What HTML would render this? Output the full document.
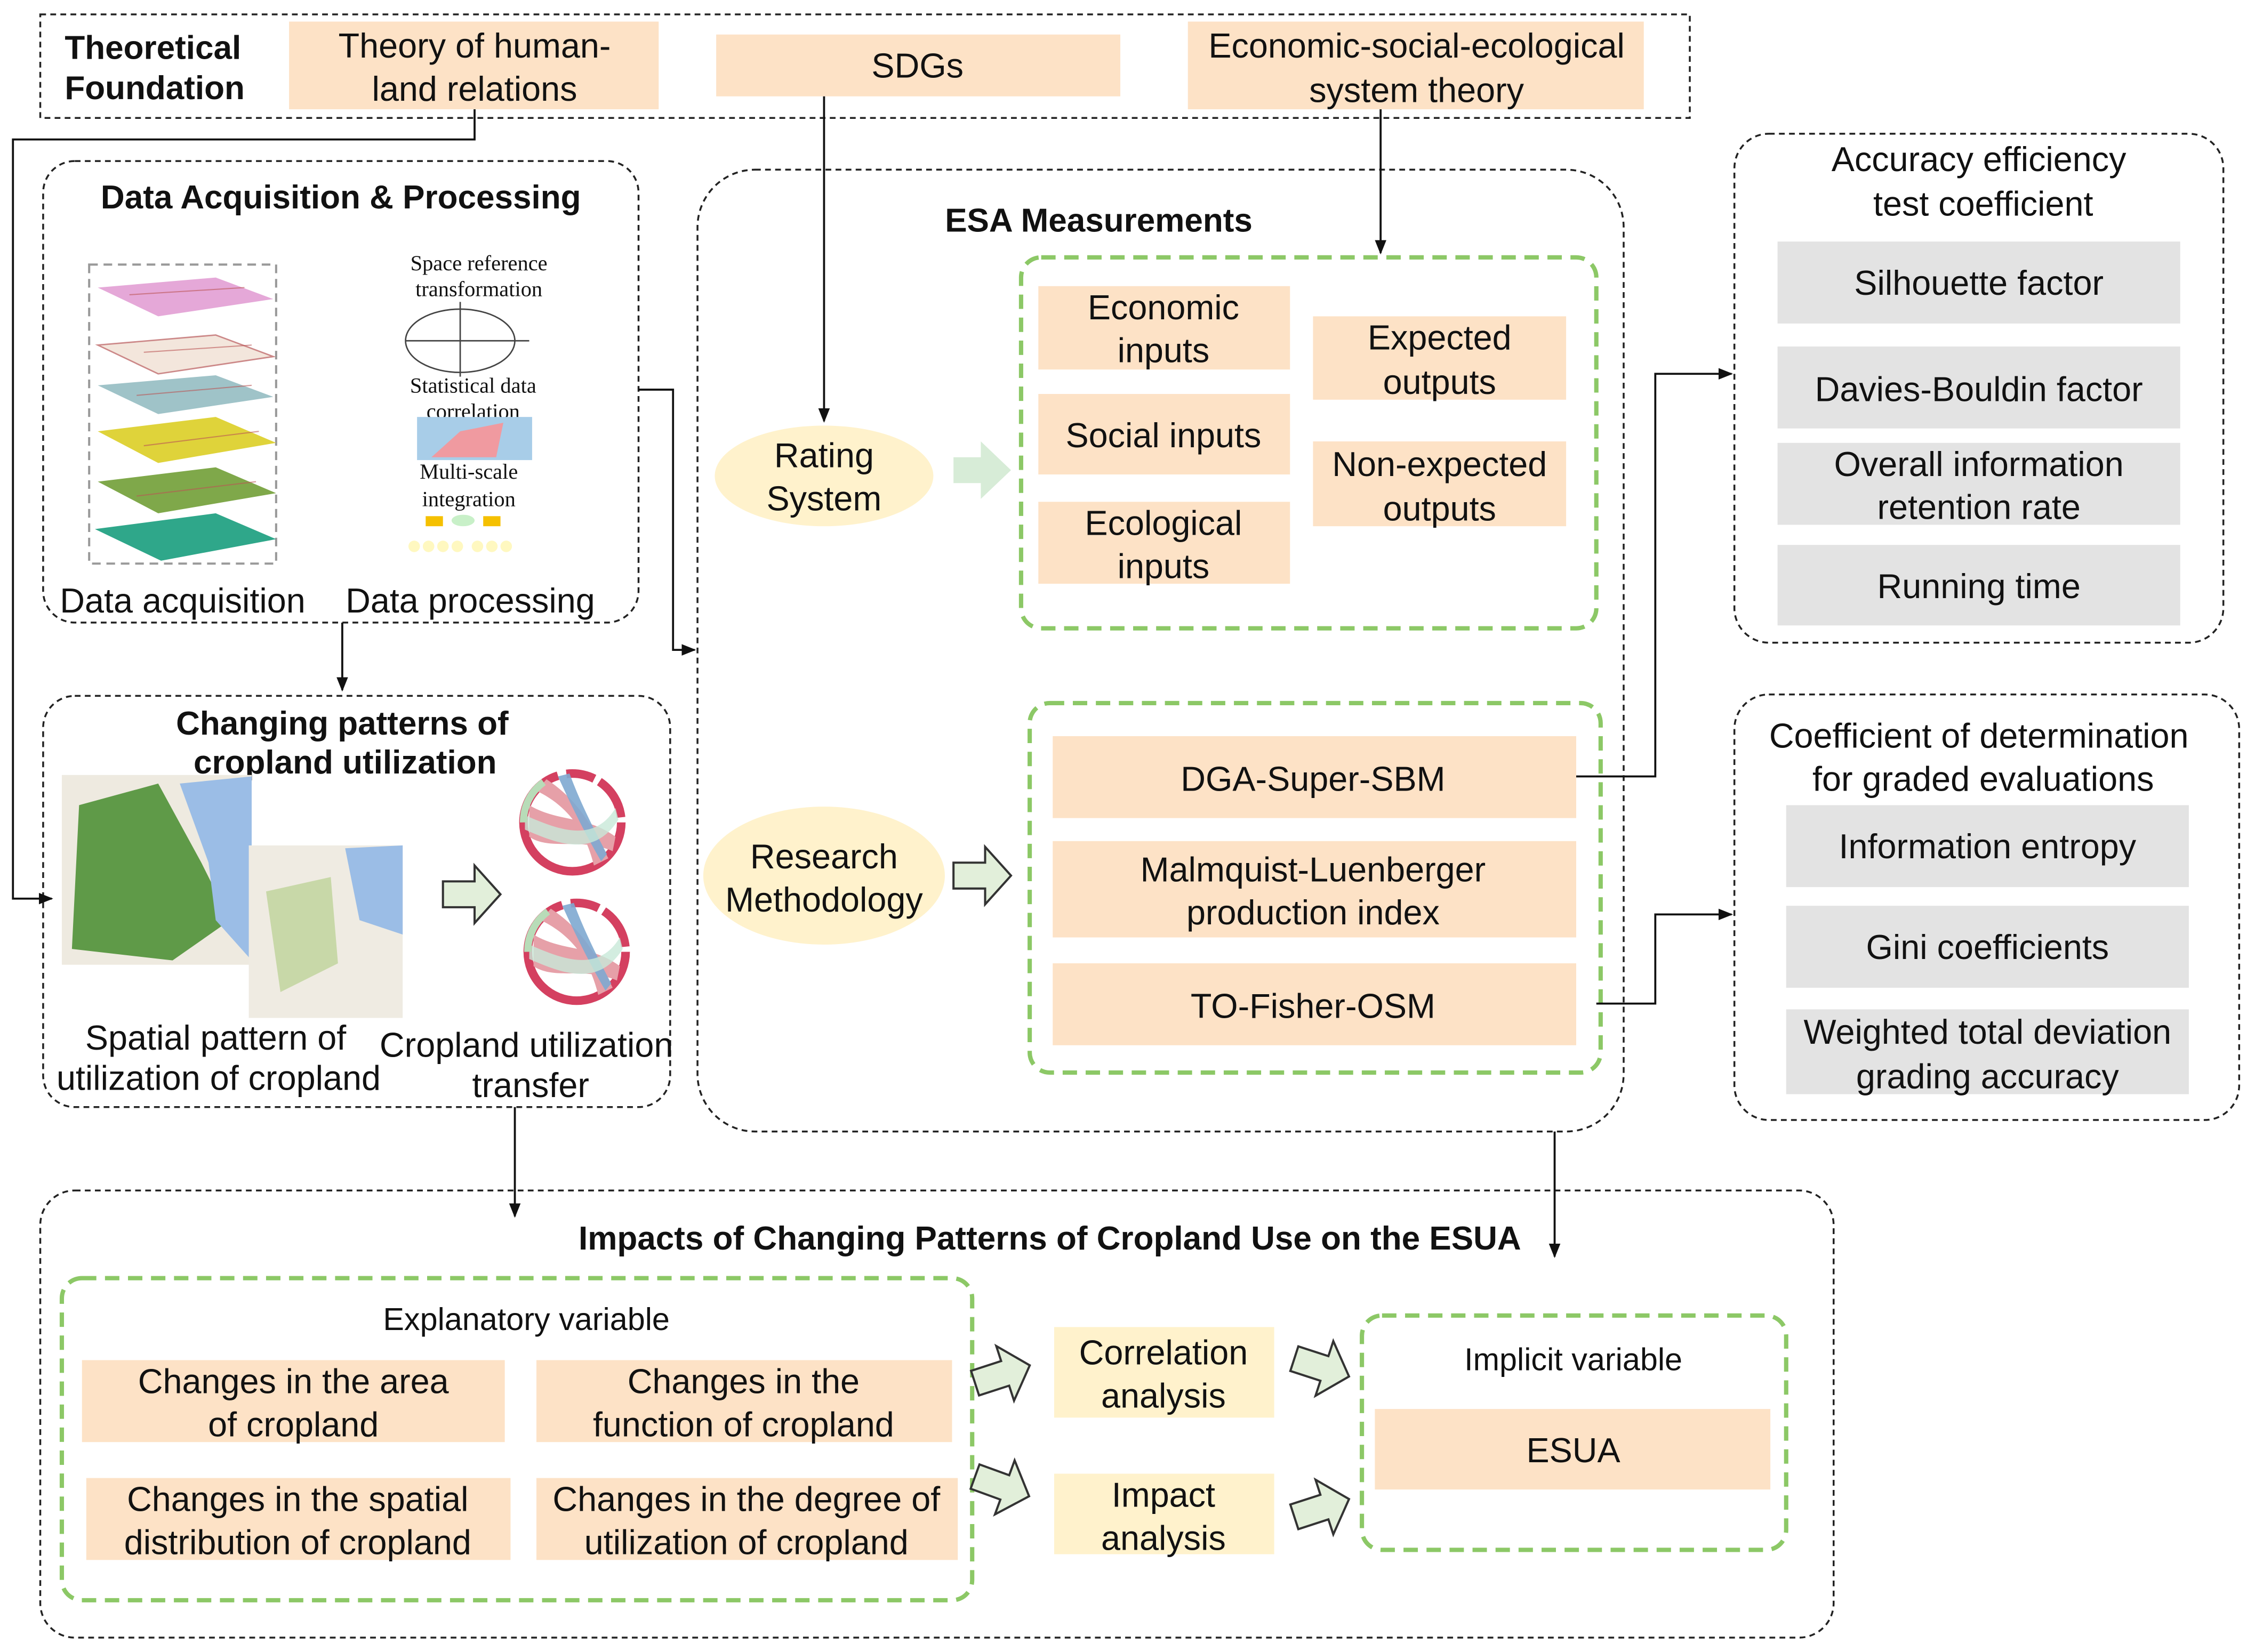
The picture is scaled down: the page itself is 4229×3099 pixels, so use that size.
<!DOCTYPE html>
<html><head><meta charset="utf-8"><style>
html,body{margin:0;padding:0;background:#fff;width:4229px;height:3099px;overflow:hidden}
svg{display:block}
text{font-family:"Liberation Sans",sans-serif;fill:#111}
.t{font-size:24px;text-anchor:middle}
.b{font-weight:bold;font-size:23px}
.ser{font-family:"Liberation Serif",serif;font-size:15px;text-anchor:middle}
</style></head><body>
<svg width="4229" height="3099" viewBox="0 0 1568 1149" xmlns="http://www.w3.org/2000/svg">
<defs>
<marker id="ar" markerWidth="10" markerHeight="10" refX="9" refY="5" orient="auto" markerUnits="userSpaceOnUse"><path d="M0,1 L10,5 L0,9 Z" fill="#111"/></marker>
<g id="ha"><path d="M0,-9 L22,-9 L22,-20 L40,0 L22,20 L22,9 L0,9 Z" fill="#e2efda" stroke="#333" stroke-width="1.5"/></g>
<g id="chord">
<circle r="34" fill="none" stroke="#d44060" stroke-width="6" stroke-dasharray="150,6,20,4,30,4"/>
<path d="M-30,-12 C-10,0 10,-5 30,10 L28,20 C5,10 -15,20 -30,10 Z" fill="#e6a0a8"/>
<path d="M-25,-22 C0,-10 10,10 15,30 L25,25 C15,5 5,-15 -18,-30 Z" fill="#e6a0a8"/>
<path d="M-10,-32 C0,-10 10,10 20,27 L24,22 C15,5 5,-15 -2,-34 Z" fill="#7ea8d0" opacity="0.9"/>
<path d="M-33,-5 C-10,5 15,15 30,-10 L32,-2 C15,25 -10,15 -33,5 Z" fill="#c8e8d8" opacity="0.8"/>
<path d="M-34,0 A34,34 0 0 1 -20,-28" fill="none" stroke="#b8dcb8" stroke-width="5"/>
</g>
</defs>
<g fill="none" stroke="#222" stroke-width="1.3" stroke-dasharray="4,3">
<rect x="28" y="10" width="1147" height="72"/>
<rect x="30" y="112" width="414" height="321" rx="22"/>
<rect x="30" y="484" width="436" height="286" rx="22"/>
<rect x="485" y="118" width="644" height="669" rx="40"/>
<rect x="1206" y="93" width="340" height="354" rx="24"/>
<rect x="1206" y="483" width="351" height="296" rx="24"/>
<rect x="28" y="828" width="1247" height="311" rx="24"/>
</g>
<g fill="none" stroke="#8cc866" stroke-width="3" stroke-dasharray="10,6">
<rect x="710" y="179" width="400" height="258" rx="14"/>
<rect x="716" y="489" width="397" height="257" rx="14"/>
<rect x="43" y="889" width="633" height="224" rx="14"/>
<rect x="947" y="915" width="295" height="163" rx="14"/>
</g>
<text class="b" x="45" y="41">Theoretical</text><text class="b" x="45" y="69">Foundation</text>
<g fill="#fde2c6">
<rect x="201" y="15" width="257" height="61"/><rect x="498" y="24" width="281" height="43"/><rect x="826" y="15" width="317" height="61"/>
<rect x="722" y="199" width="175" height="58"/><rect x="722" y="274" width="175" height="56"/><rect x="722" y="349" width="175" height="57"/>
<rect x="913" y="220" width="176" height="58"/><rect x="913" y="307" width="176" height="59"/>
<rect x="732" y="512" width="364" height="57"/><rect x="732" y="585" width="364" height="67"/><rect x="732" y="670" width="364" height="57"/>
<rect x="57" y="946" width="294" height="57"/><rect x="373" y="946" width="289" height="57"/>
<rect x="60" y="1028" width="295" height="57"/><rect x="373" y="1028" width="293" height="57"/>
<rect x="956" y="980" width="275" height="56"/>
</g>
<g fill="#fff2cc">
<rect x="733" y="923" width="153" height="63"/><rect x="733" y="1025" width="153" height="56"/>
<ellipse cx="573" cy="331" rx="76" ry="35"/><ellipse cx="573" cy="609" rx="84" ry="48"/>
</g>
<g fill="#e3e3e3">
<rect x="1236" y="168" width="280" height="57"/><rect x="1236" y="241" width="280" height="57"/><rect x="1236" y="308" width="280" height="57"/><rect x="1236" y="379" width="280" height="56"/>
<rect x="1242" y="560" width="280" height="57"/><rect x="1242" y="630" width="280" height="57"/><rect x="1242" y="702" width="280" height="59"/>
</g>
<text class="t" x="330" y="40">Theory of human-</text><text class="t" x="330" y="70">land relations</text>
<text class="t" x="638" y="54">SDGs</text>
<text class="t" x="985" y="40">Economic-social-ecological</text><text class="t" x="985" y="71">system theory</text>
<g fill="none" stroke="#111" stroke-width="1.4">
<path d="M330,76 V97 H9 V625 H36" marker-end="url(#ar)"/>
<path d="M573,67 V293" marker-end="url(#ar)"/>
<path d="M960,76 V176" marker-end="url(#ar)"/>
<path d="M238,433 V480" marker-end="url(#ar)"/>
<path d="M444,271 H468 V452 H483" marker-end="url(#ar)"/>
<path d="M1096,540 H1151 V260 H1204" marker-end="url(#ar)"/>
<path d="M1110,698 H1151 V636 H1204" marker-end="url(#ar)"/>
<path d="M358,770 V846" marker-end="url(#ar)"/>
<path d="M1081,787 V874" marker-end="url(#ar)"/>
</g>
<text class="b" x="237" y="145" text-anchor="middle">Data Acquisition &amp; Processing</text>
<rect x="62" y="184" width="130" height="208" fill="none" stroke="#999" stroke-width="1.5" stroke-dasharray="6,4"/>
<g stroke="none">
<path d="M68,200 L150,193 L190,208 L110,220 Z" fill="#e5a8d8"/>
<path d="M68,240 L150,233 L190,248 L110,260 Z" fill="#f3e6dc" stroke="#c88" stroke-width="1"/>
<path d="M68,268 L150,261 L190,276 L110,288 Z" fill="#9fc3c8"/>
<path d="M68,300 L150,290 L192,308 L110,322 Z" fill="#dfd33a"/>
<path d="M68,335 L150,325 L192,343 L110,357 Z" fill="#7fa84a"/>
<path d="M66,368 L150,357 L192,375 L112,390 Z" fill="#2fa78a"/>
</g>
<g stroke="#b55" stroke-width="0.8" opacity="0.6" fill="none">
<path d="M90,205 L170,200 M100,245 L175,240 M95,275 L175,268 M100,310 L180,300 M95,345 L178,335"/>
</g>
<text class="ser" x="333" y="188">Space reference</text><text class="ser" x="333" y="206">transformation</text>
<ellipse cx="320" cy="237" rx="38" ry="22" fill="none" stroke="#444"/><line x1="320" y1="210" x2="320" y2="262" stroke="#444"/><line x1="282" y1="237" x2="368" y2="237" stroke="#444"/>
<text class="ser" x="329" y="273">Statistical data</text><text class="ser" x="329" y="291">correlation</text>
<rect x="290" y="290" width="80" height="30" fill="#a8cde8"/><path d="M300,318 L320,300 L350,294 L345,318 Z" fill="#f09aa0"/>
<text class="ser" x="326" y="333">Multi-scale</text><text class="ser" x="326" y="352">integration</text>
<rect x="296" y="359" width="12" height="7" fill="#f5c000"/><ellipse cx="322" cy="362" rx="8" ry="4" fill="#c8f0c8"/><rect x="336" y="359" width="12" height="7" fill="#f5c000"/>
<g fill="#fff8c0"><circle cx="288" cy="380" r="4"/><circle cx="298" cy="380" r="4"/><circle cx="308" cy="380" r="4"/><circle cx="318" cy="380" r="4"/><circle cx="332" cy="380" r="4"/><circle cx="342" cy="380" r="4"/><circle cx="352" cy="380" r="4"/></g>
<text class="t" x="127" y="426">Data acquisition</text><text class="t" x="327" y="426">Data processing</text>
<text class="b" x="238" y="511" text-anchor="middle">Changing patterns of</text><text class="b" x="240" y="538" text-anchor="middle">cropland utilization</text>
<rect x="43" y="539" width="132" height="132" fill="#eeeae0"/><path d="M55,560 L110,545 L140,600 L160,640 L120,668 L50,660 Z" fill="#5f9a48"/><path d="M125,545 L175,540 L175,668 L150,640 L145,600 Z" fill="#9bbde6"/>
<rect x="173" y="588" width="107" height="120" fill="#efebe2"/><path d="M240,590 L280,588 L280,650 L250,640 Z" fill="#9bbde6"/><path d="M185,620 L230,610 L235,670 L195,690 Z" fill="#c8d8a8"/>
<use href="#ha" x="308" y="622"/>
<use href="#chord" x="398" y="572"/>
<use href="#chord" x="401" y="662"/>
<text class="t" x="150" y="730">Spatial pattern of</text><text class="t" x="152" y="758">utilization of cropland</text>
<text class="t" x="366" y="735">Cropland utilization</text><text class="t" x="369" y="763">transfer</text>
<text class="b" x="764" y="161" text-anchor="middle">ESA Measurements</text>
<text class="t" x="573" y="325">Rating</text><text class="t" x="573" y="355">System</text>
<text class="t" x="573" y="604">Research</text><text class="t" x="573" y="634">Methodology</text>
<path d="M663,318 L682,318 L682,307 L703,327 L682,347 L682,336 L663,336 Z" fill="#d7ecd7"/>
<use href="#ha" x="663" y="609"/>
<text class="t" x="809" y="222">Economic</text><text class="t" x="809" y="252">inputs</text>
<text class="t" x="809" y="311">Social inputs</text>
<text class="t" x="809" y="372">Ecological</text><text class="t" x="809" y="402">inputs</text>
<text class="t" x="1001" y="243">Expected</text><text class="t" x="1001" y="274">outputs</text>
<text class="t" x="1001" y="331">Non-expected</text><text class="t" x="1001" y="362">outputs</text>
<text class="t" x="913" y="550">DGA-Super-SBM</text>
<text class="t" x="913" y="613">Malmquist-Luenberger</text><text class="t" x="913" y="643">production index</text>
<text class="t" x="913" y="708">TO-Fisher-OSM</text>
<text class="t" x="1376" y="119">Accuracy efficiency</text><text class="t" x="1379" y="150">test coefficient</text>
<text class="t" x="1376" y="205">Silhouette factor</text>
<text class="t" x="1376" y="279">Davies-Bouldin factor</text>
<text class="t" x="1376" y="331">Overall information</text><text class="t" x="1376" y="361">retention rate</text>
<text class="t" x="1376" y="416">Running time</text>
<text class="t" x="1376" y="520">Coefficient of determination</text><text class="t" x="1379" y="550">for graded evaluations</text>
<text class="t" x="1382" y="597">Information entropy</text>
<text class="t" x="1382" y="667">Gini coefficients</text>
<text class="t" x="1382" y="726">Weighted total deviation</text><text class="t" x="1382" y="757">grading accuracy</text>
<text class="b" x="730" y="869" text-anchor="middle">Impacts of Changing Patterns of Cropland Use on the ESUA</text>
<text class="t" x="366" y="925" style="font-size:22px">Explanatory variable</text>
<text class="t" x="204" y="969">Changes in the area</text><text class="t" x="204" y="999">of cropland</text>
<text class="t" x="517" y="969">Changes in the</text><text class="t" x="517" y="999">function of cropland</text>
<text class="t" x="207" y="1051">Changes in the spatial</text><text class="t" x="207" y="1081">distribution of cropland</text>
<text class="t" x="519" y="1051">Changes in the degree of</text><text class="t" x="519" y="1081">utilization of cropland</text>
<text class="t" x="809" y="949">Correlation</text><text class="t" x="809" y="979">analysis</text>
<text class="t" x="809" y="1048">Impact</text><text class="t" x="809" y="1078">analysis</text>
<text class="t" x="1094" y="953" style="font-size:22px">Implicit variable</text>
<text class="t" x="1094" y="1017">ESUA</text>
<use href="#ha" transform="translate(678,962) rotate(-18)"/>
<use href="#ha" transform="translate(678,1027) rotate(20)"/>
<use href="#ha" transform="translate(900,945) rotate(18)"/>
<use href="#ha" transform="translate(900,1055) rotate(-18)"/>
</svg>
</body></html>
